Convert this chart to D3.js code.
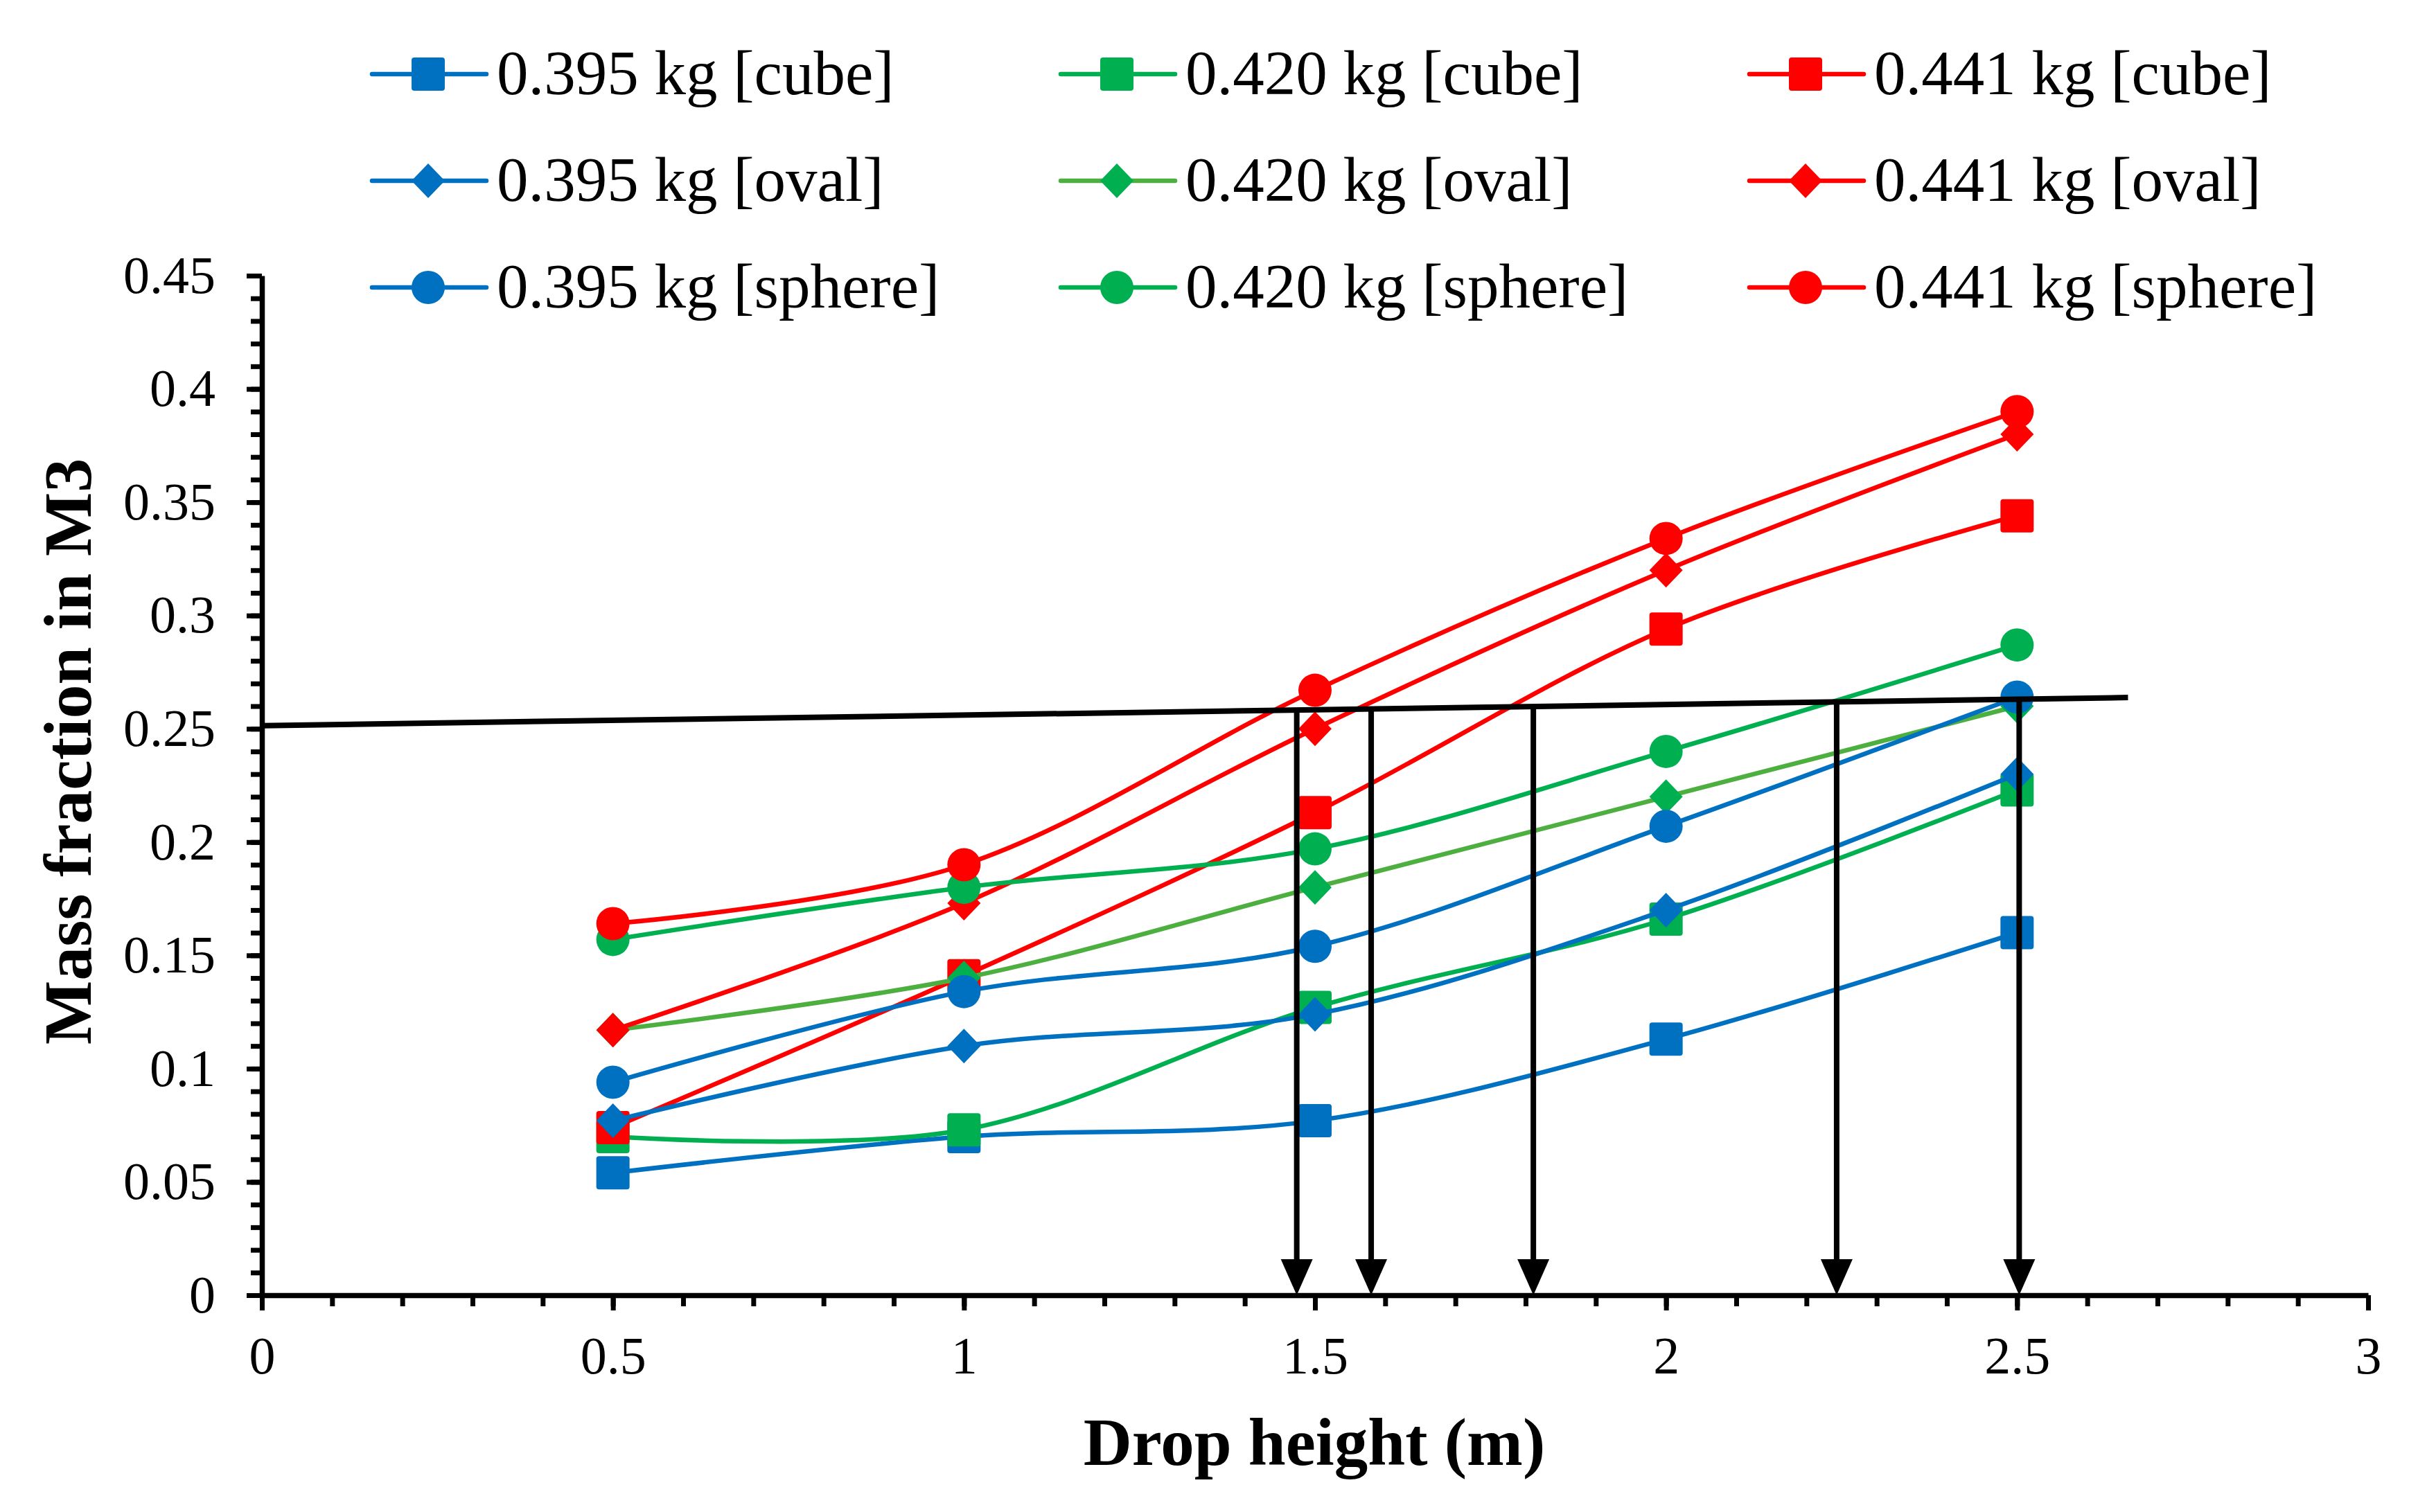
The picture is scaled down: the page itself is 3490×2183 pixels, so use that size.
<!DOCTYPE html>
<html>
<head>
<meta charset="utf-8">
<script src="https://cdn.jsdelivr.net/npm/d3@7"></script>
<style>
  html, body { margin: 0; padding: 0; background: #fff; }
  text { font-family: "Times New Roman", "Liberation Serif", serif; fill: #000; }
</style>
</head>
<body>
<div id="chart"></div>
<script>
// Drop heights (m) on the x axis
const heights = [0.5, 1.0, 1.5, 2.0, 2.5];

// Mass fraction in M3
const cube395   = [0.054, 0.070, 0.077, 0.113, 0.160];
const cube420   = [0.070, 0.073, 0.127, 0.166, 0.223];
const cube441   = [0.074, 0.141, 0.213, 0.294, 0.344];
const oval395   = [0.077, 0.110, 0.124, 0.170, 0.230];
const oval420   = [0.117, 0.140, 0.180, 0.220, 0.260];
const oval441   = [0.117, 0.173, 0.250, 0.320, 0.380];
const sphere395 = [0.094, 0.134, 0.154, 0.207, 0.264];
const sphere420 = [0.157, 0.180, 0.197, 0.240, 0.287];
const sphere441 = [0.164, 0.190, 0.267, 0.334, 0.390];

const seriesNames = [
  "0.395 kg [cube]", "0.420 kg [cube]", "0.441 kg [cube]",
  "0.395 kg [oval]", "0.420 kg [oval]", "0.441 kg [oval]",
  "0.395 kg [sphere]", "0.420 kg [sphere]", "0.441 kg [sphere]"
];
const seriesValues = [cube395, cube420, cube441, oval395, oval420, oval441, sphere395, sphere420, sphere441];

// Threshold line (0.25 level) and the drop heights marked by arrows
const refLineX = [0, 2.658];
const refLineY = [0.2514, 0.2638];
const arrowX = [1.474, 1.580, 1.811, 2.243, 2.503];

// Axis ticks
const xMajor = [0, 0.5, 1, 1.5, 2, 2.5, 3];
const yMajor = [0, 0.05, 0.1, 0.15, 0.2, 0.25, 0.3, 0.35, 0.4, 0.45];

// Styling per series
const blue = "#0070C0", green = "#00B050", red = "#FF0000", lightGreen = "#4CAF40";
const lineColor = [blue, green, red, blue, lightGreen, red, blue, green, red];
const markColor = [blue, green, red, blue, green, red, blue, green, red];
const markShape = ["square", "square", "square", "diamond", "diamond", "diamond", "circle", "circle", "circle"];

const W = 3490, H = 2183;
const svg = d3.select("#chart").append("svg")
    .attr("width", W)
    .attr("height", H);

const x = d3.scaleLinear().domain([0, 3]).range([378, 3418]);
const y = d3.scaleLinear().domain([0, 0.45]).range([1870, 398]);

// Marker drawing helper
function drawMarker(g, shape, cx, cy, color) {
    const s = 24;
    if (shape === "square") {
        g.append("rect")
            .attr("x", cx - s).attr("y", cy - s)
            .attr("width", 2 * s).attr("height", 2 * s)
            .attr("rx", 4)
            .attr("fill", color);
    } else if (shape === "diamond") {
        g.append("path")
            .attr("d", `M${cx},${cy - s - 1}L${cx + s},${cy}L${cx},${cy + s + 1}L${cx - s},${cy}Z`)
            .attr("fill", color);
    } else {
        g.append("circle")
            .attr("cx", cx).attr("cy", cy).attr("r", s)
            .attr("fill", color);
    }
}

// Axes: minor ticks first, then major ticks with labels
const xMinor = d3.range(0, 3.0001, 0.1);
const yMinor = d3.range(0, 0.4501, 0.01);

svg.append("g")
    .attr("transform", `translate(0,${y(0)})`)
    .call(d3.axisBottom(x).tickValues(xMinor).tickSize(16).tickSizeOuter(0).tickFormat(""))
    .call(g => g.select(".domain").remove())
    .call(g => g.selectAll(".tick line").attr("stroke", "#000").attr("stroke-width", 7));

svg.append("g")
    .attr("transform", `translate(${x(0)},0)`)
    .call(d3.axisLeft(y).tickValues(yMinor).tickSize(16).tickSizeOuter(0).tickFormat(""))
    .call(g => g.select(".domain").remove())
    .call(g => g.selectAll(".tick line").attr("stroke", "#000").attr("stroke-width", 7));

const xAxis = svg.append("g")
    .attr("transform", `translate(0,${y(0)})`)
    .call(d3.axisBottom(x).tickValues(xMajor).tickSize(22).tickSizeOuter(0).tickPadding(37).tickFormat(d3.format("")));

const yAxis = svg.append("g")
    .attr("transform", `translate(${x(0)},0)`)
    .call(d3.axisLeft(y).tickValues(yMajor).tickSize(22).tickSizeOuter(0).tickPadding(45).tickFormat(d3.format("")));

[xAxis, yAxis].forEach(a => {
    a.select(".domain").attr("stroke", "#000").attr("stroke-width", 7.5);
    a.selectAll(".tick line").attr("stroke", "#000").attr("stroke-width", 7);
    a.selectAll(".tick text")
        .attr("font-size", 76)
        .attr("font-family", "'Times New Roman', 'Liberation Serif', serif")
        .attr("fill", "#000");
});

// Axis titles
svg.append("text")
    .attr("x", 1897).attr("y", 2115)
    .attr("text-anchor", "middle")
    .attr("font-size", 97)
    .attr("font-weight", "bold")
    .text("Drop height (m)");

svg.append("text")
    .attr("transform", "translate(131,1085) rotate(-90)")
    .attr("text-anchor", "middle")
    .attr("font-size", 98)
    .attr("font-weight", "bold")
    .text("Mass fraction in M3");

// Series: smoothed line + markers, drawn in legend order
const line = d3.line()
    .x(d => x(d[0]))
    .y(d => y(d[1]))
    .curve(d3.curveCatmullRom.alpha(0));

seriesValues.forEach((vals, i) => {
    const pts = heights.map((h, j) => [h, vals[j]]);
    const g = svg.append("g").attr("class", "series");
    g.append("path")
        .attr("d", line(pts))
        .attr("fill", "none")
        .attr("stroke", lineColor[i])
        .attr("stroke-width", 6.5)
        .attr("stroke-linejoin", "round");
    pts.forEach(p => drawMarker(g, markShape[i], x(p[0]), y(p[1]), markColor[i]));
});

// Threshold line
svg.append("line")
    .attr("x1", x(refLineX[0])).attr("y1", y(refLineY[0]))
    .attr("x2", x(refLineX[1])).attr("y2", y(refLineY[1]))
    .attr("stroke", "#000")
    .attr("stroke-width", 8);

// Arrows from the threshold line down to the x axis
const refAt = v => refLineY[0] + (refLineY[1] - refLineY[0]) * (v - refLineX[0]) / (refLineX[1] - refLineX[0]);
const headLen = 52, headHalf = 23;
arrowX.forEach(v => {
    const ax = x(v), top = y(refAt(v)), tip = y(0);
    svg.append("line")
        .attr("x1", ax).attr("y1", top)
        .attr("x2", ax).attr("y2", tip - headLen + 2)
        .attr("stroke", "#000")
        .attr("stroke-width", 8);
    svg.append("path")
        .attr("d", `M${ax - headHalf},${tip - headLen}L${ax + headHalf},${tip - headLen}L${ax},${tip}Z`)
        .attr("fill", "#000");
});

// Legend: 3 columns x 3 rows
const legCols = [537, 1531, 2525];
const legRows = [107, 261, 415];
seriesNames.forEach((name, i) => {
    const lx = legCols[i % 3], ly = legRows[Math.floor(i / 3)];
    const g = svg.append("g").attr("class", "legend");
    g.append("line")
        .attr("x1", lx).attr("y1", ly)
        .attr("x2", lx + 165).attr("y2", ly)
        .attr("stroke", lineColor[i])
        .attr("stroke-width", 6.5)
        .attr("stroke-linecap", "round");
    drawMarker(g, markShape[i], lx + 81, ly, markColor[i]);
    g.append("text")
        .attr("x", lx + 180).attr("y", ly + 29)
        .attr("font-size", 91)
        .text(name);
});
</script>
</body>
</html>
